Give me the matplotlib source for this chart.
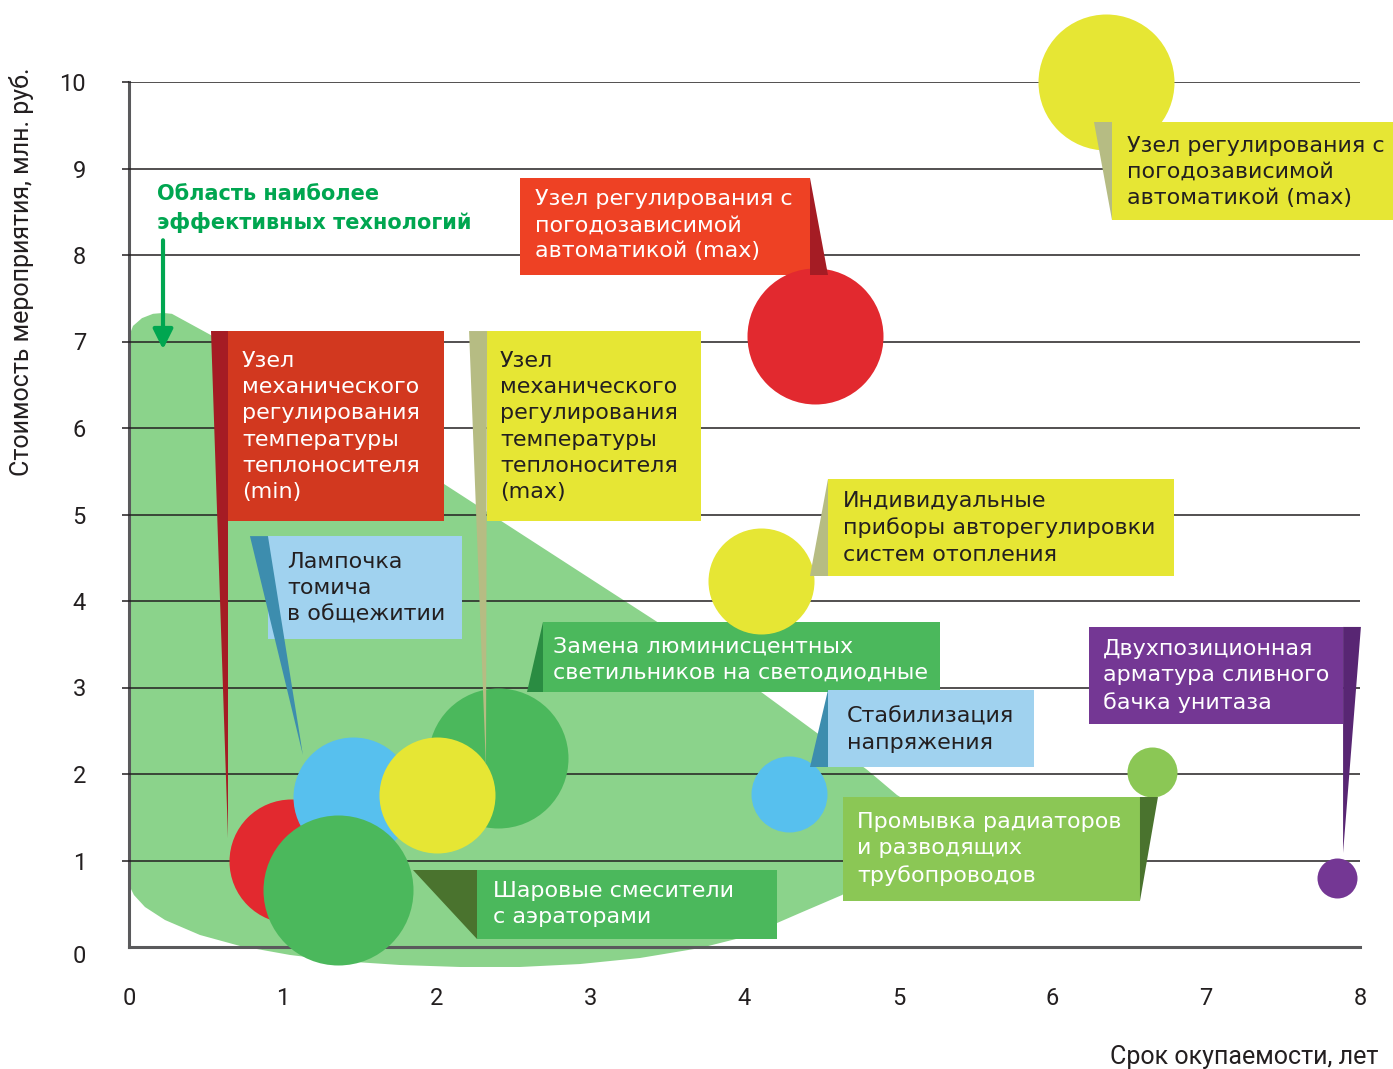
import matplotlib
matplotlib.use('Agg')
import matplotlib.pyplot as plt
from matplotlib.patches import Polygon, Rectangle

# bubbles: payback period (years), cost (mln rub), bubble radius (px)
names = ['Узел механического регулирования (min)', 'Лампочка томича', 'Замена светильников',
         'Узел механического регулирования (max)', 'Шаровые смесители', 'Стабилизация напряжения',
         'Индивидуальные приборы', 'Узел погодозависимой (red)', 'Узел погодозависимой (max)',
         'Промывка радиаторов', 'Двухпозиционная арматура']
payback = [1.05, 1.455, 2.40, 2.00, 1.36, 4.29, 4.11, 4.46, 6.35, 6.65, 7.85]
cost = [0.99, 1.73, 2.18, 1.76, 0.66, 1.77, 4.23, 7.06, 10.0, 2.02, 0.80]
radius = [62, 60, 70, 58, 75, 38, 53, 68, 68, 25, 20]
bubble_colors = ['#E2292F', '#57C0EE', '#4BB85C', '#E6E634', '#4BB85C', '#57C0EE',
                 '#E6E634', '#E2292F', '#E6E634', '#8BC755', '#743794']

# outline of the "most effective" area
area_x = [0.0, 0.026, 0.084, 0.156, 0.221, 0.279, 0.526, 2.041, 3.431, 4.114, 4.796, 4.991,
          5.043, 5.089, 5.063, 4.965, 4.816, 4.634, 4.361, 4.211, 3.971, 3.711, 3.321, 2.931,
          2.541, 2.151, 1.761, 1.371, 1.046, 0.721, 0.461, 0.234, 0.104, 0.032, 0.0]
area_y = [7.06, 7.18, 7.27, 7.32, 7.33, 7.32, 7.08, 5.36, 3.76, 2.94, 2.05, 1.757,
          1.699, 1.561, 1.295, 1.029, 0.798, 0.601, 0.393, 0.277, 0.104, -0.012, -0.127, -0.197,
          -0.231, -0.231, -0.208, -0.162, -0.092, 0.012, 0.139, 0.312, 0.462, 0.601, 0.717]

WHITE = '#FFFFFF'
DARK = '#231F20'
YEL, KHAKI = '#E6E634', '#B6BC83'
LBLUE, SBLUE = '#A0D2EF', '#3D8DAE'

# callouts: text, box (x0, x1, ybot, ytop), text anchor, pointer triangle, colours
callouts = [
    ('Узел\nмеханического\nрегулирования\nтемпературы\nтеплоносителя\n(min)',
     (0.643, 2.047, 4.925, 7.121), (0.734, 6.89),
     [(0.533, 7.121), (0.643, 7.121), (0.643, 1.26)], '#D2381F', '#A51C24', WHITE),
    ('Узел\nмеханического\nрегулирования\nтемпературы\nтеплоносителя\n(max)',
     (2.327, 3.717, 4.925, 7.121), (2.411, 6.89),
     [(2.21, 7.121), (2.327, 7.121), (2.32, 2.07)], YEL, KHAKI, DARK),
    ('Лампочка\nтомича\nв общежитии',
     (0.903, 2.164, 3.56, 4.75), (1.027, 4.566),
     [(0.786, 4.75), (0.903, 4.75), (1.13, 2.22)], LBLUE, SBLUE, DARK),
    ('Замена люминисцентных\nсветильников на светодиодные',
     (2.69, 5.27, 2.948, 3.757), (2.755, 3.595),
     [(2.69, 3.757), (2.69, 2.948), (2.587, 2.948)], '#4BB85C', '#2A8C42', WHITE),
    ('Индивидуальные\nприборы авторегулировки\nсистем отопления',
     (4.543, 6.791, 4.289, 5.41), (4.64, 5.272),
     [(4.543, 5.41), (4.543, 4.289), (4.426, 4.289)], YEL, KHAKI, DARK),
    ('Стабилизация\nнапряжения',
     (4.543, 5.881, 2.081, 2.971), (4.666, 2.775),
     [(4.543, 2.971), (4.543, 2.081), (4.426, 2.081)], LBLUE, SBLUE, DARK),
    ('Узел регулирования с\nпогодозависимой\nавтоматикой (max)',
     (2.541, 4.426, 7.769, 8.89), (2.64, 8.763),
     [(4.426, 8.89), (4.426, 7.769), (4.543, 7.769)], '#EE4124', '#A51C24', WHITE),
    ('Узел регулирования с\nпогодозависимой\nавтоматикой (max)',
     (6.388, 8.215, 8.405, 9.538), (6.486, 9.38),
     [(6.271, 9.538), (6.388, 9.538), (6.388, 8.405)], YEL, KHAKI, DARK),
    ('Двухпозиционная\nарматура сливного\nбачка унитаза',
     (6.239, 7.89, 2.578, 3.70), (6.33, 3.561),
     [(7.89, 3.70), (8.006, 3.70), (7.89, 1.087)], '#743794', '#582673', WHITE),
    ('Промывка радиаторов\nи разводящих\nтрубопроводов',
     (4.64, 6.57, 0.532, 1.734), (4.731, 1.561),
     [(6.57, 1.734), (6.687, 1.734), (6.57, 0.532)], '#8BC755', '#4A732E', WHITE),
    ('Шаровые смесители\nс аэраторами',
     (2.262, 4.211, 0.092, 0.89), (2.366, 0.763),
     [(1.846, 0.89), (2.262, 0.89), (2.262, 0.092)], '#4BB85C', '#4A732E', WHITE),
]

box_font = 'DejaVu Sans'
axis_font = 'Roboto'
LS = 1.39

fig = plt.figure(figsize=(13.93, 10.69), dpi=100)
ax = fig.add_axes([129 / 1393, 122 / 1069, 1231 / 1393, 865 / 1069])
ax.set_xlim(0, 8)
ax.set_ylim(0, 10)

# shaded area
ax.add_patch(Polygon(list(zip(area_x, area_y)), closed=True, facecolor='#8BD38B',
                     edgecolor='none', zorder=1, clip_on=False))

# grid / axes
ax.set_axisbelow(False)
ax.grid(axis='y', color=DARK, lw=1.1)
ax.set_yticks(range(1, 11))
ax.set_yticklabels([str(v) for v in range(1, 11)], fontfamily=axis_font, fontsize=17, color=DARK)
ax.set_xticks(range(0, 9))
ax.set_xticklabels([str(v) for v in range(0, 9)], fontfamily=axis_font, fontsize=17, color=DARK)
ax.tick_params(axis='y', length=5, width=1.1, color=DARK, pad=26)
ax.tick_params(axis='x', length=0, pad=29)
ax.text(-0.28, -0.11, '0', ha='right', va='center', fontfamily=axis_font, fontsize=17, color=DARK)
for side in ['top', 'right']:
    ax.spines[side].set_visible(False)
for side in ['left', 'bottom']:
    ax.spines[side].set_color('#5A5A5C')
    ax.spines[side].set_linewidth(2.2)

# bubbles
order = [3.0, 3.1, 3.2, 3.3, 3.4, 3.0, 3.0, 3.0, 3.0, 3.0, 3.0]
for x, y, r, c, z in zip(payback, cost, radius, bubble_colors, order):
    ax.scatter([x], [y], s=(2 * r * 0.72) ** 2, color=c, linewidths=0, zorder=z, clip_on=False)

# callout boxes
for text, (x0, x1, y0, y1), (tx, ty), tri, face, ptr, tcol in callouts:
    ax.add_patch(Rectangle((x0, y0), x1 - x0, y1 - y0, facecolor=face, edgecolor='none',
                           zorder=2.8, clip_on=False))
    ax.add_patch(Polygon(tri, closed=True, facecolor=ptr, edgecolor='none', zorder=4,
                         clip_on=False))
    ax.text(tx, ty, text, ha='left', va='top', fontfamily=box_font, fontsize=16,
            color=tcol, linespacing=LS, zorder=5, clip_on=False)

# area title and arrow
ax.text(0.182, 8.82, 'Область наиболее\nэффективных технологий', ha='left', va='top',
        fontfamily=box_font, fontsize=15, fontweight='bold', color='#00A650', linespacing=1.45)
ax.annotate('', xy=(0.221, 6.91), xytext=(0.221, 8.17),
            arrowprops=dict(arrowstyle='-|>', color='#00A650', lw=3, mutation_scale=30,
                            shrinkA=0, shrinkB=0), annotation_clip=False)

fig.text(22 / 1393, 1 - 272 / 1069, 'Стоимость мероприятия, млн. руб.', rotation=90,
         ha='center', va='center', fontfamily=axis_font, fontsize=18, color=DARK)
fig.text(1378 / 1393, 1 - 1057 / 1069, 'Срок окупаемости, лет', ha='right', va='center',
         fontfamily=axis_font, fontsize=18, color=DARK)

fig.savefig('out.png', dpi=100)
